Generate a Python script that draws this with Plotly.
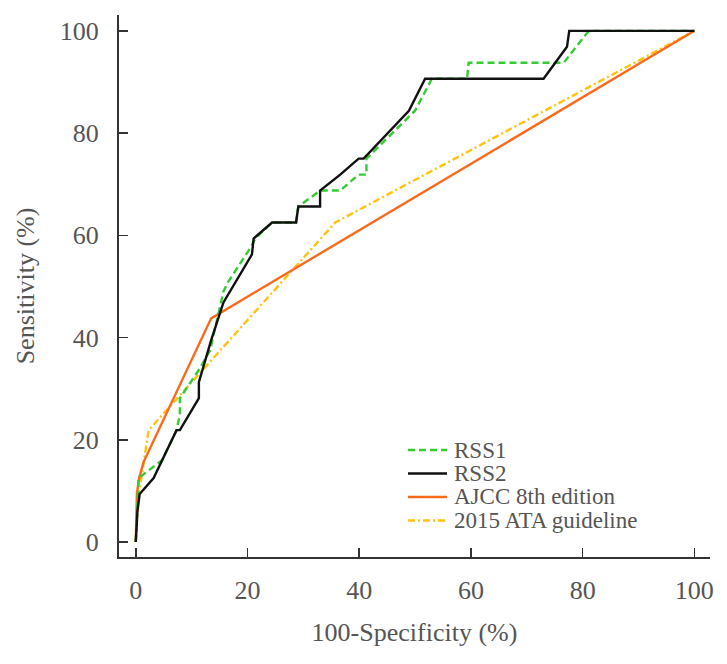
import plotly.graph_objects as go

# ---- data (100-specificity %, sensitivity %) ----
rss1_x = [0, 0.3, 0.5, 2.3, 4.7, 7.3, 7.9, 7.9, 11.5, 13.3, 15.7, 16.6, 20.5, 21.4,
          24.4, 28.7, 29.1, 33.0, 36.6, 39.9, 41.3, 41.3, 50.0, 53.0, 59.3, 59.6,
          76.6, 81.1, 100]
rss1_y = [0, 6, 12.5, 14.0, 16.0, 21.875, 25, 28.125, 34.0, 37.5, 49.0, 51.0, 57.5,
          59.375, 62.5, 62.5, 65.625, 68.75, 68.75, 71.875, 71.875, 75, 84.375,
          90.625, 90.625, 93.75, 93.75, 100, 100]

rss2_x = [0, 0.3, 0.7, 3.2, 7.3, 7.9, 11.3, 11.3, 13.5, 15.7, 20.8, 21.1, 24.4, 28.7,
          29.1, 33.0, 33.0, 36.6, 39.9, 40.8, 48.9, 51.8, 73.0, 77.2, 77.6, 100]
rss2_y = [0, 6, 9.375, 12.5, 21.875, 21.875, 28.125, 31.25, 39.5, 46.875, 56.25,
          59.375, 62.5, 62.5, 65.625, 65.625, 68.75, 71.875, 75, 75, 84.375, 90.625,
          90.625, 96.875, 100, 100]

ajcc_x = [0, 0.05, 0.2, 0.6, 1.4, 13.5, 100]
ajcc_y = [0, 5, 9.4, 12.5, 15.625, 43.75, 100]

ata_x = [0, 0.2, 0.5, 1.0, 2.3, 35.7, 100]
ata_y = [0, 4, 9.375, 12.5, 21.875, 62.5, 100]

series_names = ["RSS1", "RSS2", "AJCC 8th edition", "2015 ATA guideline"]
series_x = [rss1_x, rss2_x, ajcc_x, ata_x]
series_y = [rss1_y, rss2_y, ajcc_y, ata_y]
series_colors = ["#33CC33", "#111111", "#F96A1C", "#FFC20E"]
series_dash = ["7px,4px", "solid", "solid", "7px,3px,2px,3px"]

x_ticks = [0, 20, 40, 60, 80, 100]
y_ticks = [0, 20, 40, 60, 80, 100]

FONT = "Liberation Serif, Times New Roman, serif"
GRAY = "#555555"
AX = "#333333"

fig = go.Figure()
# draw in order: ATA, AJCC, RSS1, RSS2 so black sits on top like reference
for i in [3, 2, 0, 1]:
    fig.add_trace(go.Scatter(
        x=series_x[i], y=series_y[i], mode="lines", name=series_names[i],
        line=dict(color=series_colors[i], width=2.4, dash=series_dash[i]),
        showlegend=False, hoverinfo="skip"))

W, H = 727, 664
L, R, T, B = 119, 17, 15, 107
pw, ph = W - L - R, H - T - B


def px2paper(px, py):
    return (px - L) / pw, (H - B - py) / ph


# custom legend (compact rows as in the reference)
row_y = [450, 473.5, 497, 520.5]
for i, name in enumerate(series_names):
    x0, y0 = px2paper(408, row_y[i])
    x1, _ = px2paper(447, row_y[i])
    fig.add_shape(type="line", xref="paper", yref="paper", x0=x0, x1=x1, y0=y0, y1=y0,
                  line=dict(color=series_colors[i], width=2.4, dash=series_dash[i]))
    tx, ty = px2paper(452, row_y[i])
    fig.add_annotation(xref="paper", yref="paper", x=tx, y=ty, text=name,
                       showarrow=False, xanchor="left", yanchor="middle",
                       font=dict(family=FONT, size=23, color=GRAY))

fig.update_layout(
    width=W, height=H,
    margin=dict(l=L, r=R, t=T, b=B, autoexpand=False),
    plot_bgcolor="white", paper_bgcolor="white",
    font=dict(family=FONT, size=26, color=GRAY),
    showlegend=False,
)
fig.update_xaxes(
    range=[-3.0, 102.8], tickvals=x_ticks, ticktext=[str(v) for v in x_ticks],
    showgrid=False, zeroline=False, showline=True, linecolor=AX, linewidth=2,
    ticks="inside", ticklen=9, tickwidth=1.5, tickcolor=AX, automargin=False,
    tickfont=dict(family=FONT, size=26, color=GRAY), ticklabelstandoff=9,
    title=dict(text="100-Specificity (%)", font=dict(family=FONT, size=26, color=GRAY),
               standoff=19),
)
fig.update_yaxes(
    range=[-2.94, 103.1], tickvals=y_ticks, ticktext=[str(v) for v in y_ticks],
    showgrid=False, zeroline=False, showline=True, linecolor=AX, linewidth=2,
    ticks="inside", ticklen=9, tickwidth=1.5, tickcolor=AX, automargin=False,
    tickfont=dict(family=FONT, size=26, color=GRAY), ticklabelstandoff=13,
    title=dict(text="Sensitivity (%)", font=dict(family=FONT, size=26, color=GRAY),
               standoff=18),
)

fig.write_html("out.html",
               config={"displayModeBar": False, "staticPlot": True},
               post_script="document.body.style.margin='0';document.body.style.padding='0';")
